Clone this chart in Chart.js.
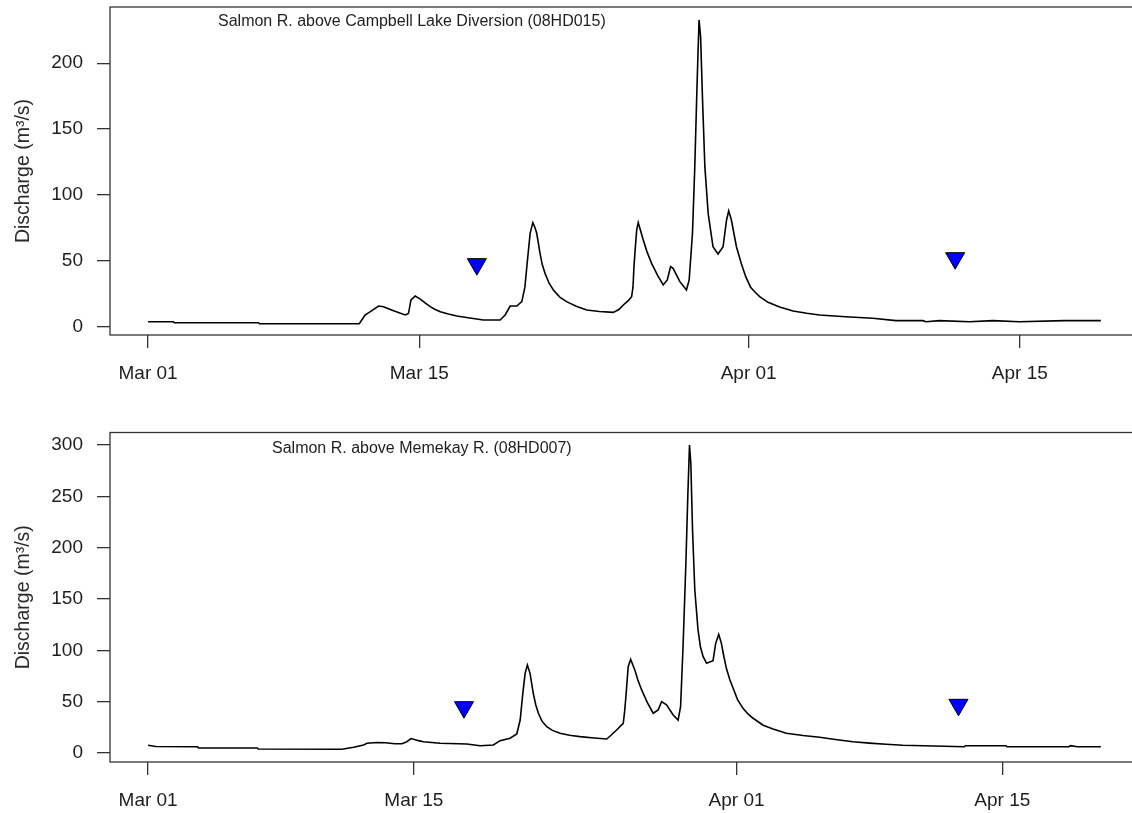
<!DOCTYPE html>
<html>
<head>
<meta charset="utf-8">
<script src="https://cdn.jsdelivr.net/npm/chart.js@4.4.1/dist/chart.umd.min.js"></script>
<style>
  html, body { margin: 0; padding: 0; background: #fff; overflow: hidden; }
  #wrap { position: relative; width: 1132px; height: 813px; overflow: hidden; }
  canvas { position: absolute; left: 0; }
  #topChart { top: 0; }
  #botChart { top: 400px; }
</style>
</head>
<body>
<div id="wrap">
  <canvas id="topChart" width="1140" height="400"></canvas>
  <canvas id="botChart" width="1140" height="413"></canvas>
</div>
<script>
// day 0 = Mar 01
const tickDays = [0, 14, 31, 45];
const tickLabels = ["Mar 01", "Mar 15", "Apr 01", "Apr 15"];
const yTitle = "Discharge (m\u00B3/s)";

// Salmon R. above Campbell Lake Diversion
const topTitle = "Salmon R. above Campbell Lake Diversion (08HD015)";
const topYTicks = [0, 50, 100, 150, 200];
const topDays = [
  0, 1.3, 1.35, 5.7, 5.75, 10.9, 11.2, 11.47, 11.9, 12.15, 12.67, 13.27, 13.44, 13.57,
  13.79, 14.05, 14.3, 14.56, 14.8, 15.08, 15.5, 15.94, 16.6, 17.31, 18.17, 18.43,
  18.69, 19.03, 19.29, 19.45, 19.55, 19.72, 19.86, 19.95, 20.06, 20.15, 20.23, 20.35,
  20.49, 20.7, 20.92, 21.25, 21.6, 22.1, 22.64, 23.3, 24.01, 24.3, 24.53, 24.8,
  24.96, 25.03, 25.08, 25.15, 25.22, 25.3, 25.4, 25.56, 25.75, 25.99, 26.3, 26.59,
  26.8, 26.97, 27.1, 27.45, 27.79, 27.93, 28.1, 28.22, 28.31, 28.39, 28.44, 28.52,
  28.62, 28.74, 28.91, 29.16, 29.42, 29.68, 29.86, 29.97, 30.11, 30.25, 30.37, 30.5,
  30.62, 30.85, 31.1, 31.35, 31.57, 32.0, 32.6, 33.29, 34.0, 34.66, 36.0, 37.41,
  38.6, 39.99, 40.16, 40.85, 42.4, 43.6, 44.97, 47.3, 49.18
];
const topFlow = [
  3.8, 3.8, 3.0, 3.0, 2.2, 2.3, 8.9, 11.4, 15.7, 15.2, 12.1, 8.9, 10.0, 20.3,
  23.3, 21.0, 18.0, 15.2, 13.2, 11.4, 9.6, 8.1, 6.6, 5.1, 5.1, 8.9,
  15.7, 15.7, 19.0, 30.0, 45.6, 70.9, 79.0, 76.0, 70.9, 63.0, 55.7, 47.0,
  40.5, 33.0, 27.9, 22.5, 19.0, 15.5, 12.7, 11.5, 10.9, 13.0, 16.5, 20.0,
  22.8, 30.0, 45.6, 60.0, 73.4, 79.0, 74.0, 65.8, 57.0, 48.1, 39.0, 31.7,
  35.5, 45.6, 44.3, 34.2, 27.9, 35.5, 70.9, 121.5, 169.6, 210, 232.9, 220,
  172, 121.5, 86, 60.7, 55.2, 60.7, 81, 88, 81, 70, 60.7, 54,
  48, 38, 30, 26, 22.8, 18.5, 15, 11.9, 10.2, 8.9, 7.5, 6.4,
  4.6, 4.6, 3.8, 4.6, 3.8, 4.6, 3.8, 4.6, 4.6
];
const topMarkDays = [16.97, 41.66];
const topMarkFlow = [47.5, 52];

// Salmon R. above Memekay R.
const botTitle = "Salmon R. above Memekay R. (08HD007)";
const botYTicks = [0, 50, 100, 150, 200, 250, 300];
const botDays = [
  0, 0.4, 2.6, 2.65, 5.75, 5.8, 10.2, 10.83, 11.35, 11.53, 12.06, 12.5, 13.0, 13.37,
  13.63, 13.85, 14.25, 14.5, 15.39, 16.79, 17.49, 18.19, 18.54, 19.07, 19.42, 19.6,
  19.74, 19.86, 19.98, 20.12, 20.29, 20.42, 20.56, 20.75, 21.0, 21.3, 21.7, 22.2,
  22.75, 23.5, 24.16, 24.4, 24.68, 25.03, 25.1, 25.17, 25.29, 25.42, 25.64, 25.8,
  26.0, 26.3, 26.61, 26.87, 27.05, 27.31, 27.66, 27.92, 28.05, 28.18, 28.33, 28.43,
  28.52, 28.59, 28.68, 28.8, 28.97, 29.1, 29.24, 29.42, 29.76, 29.9, 30.06, 30.2,
  30.33, 30.47, 30.65, 30.82, 31.05, 31.34, 31.6, 31.87, 32.4, 32.92, 33.62, 34.5,
  35.38, 36.2, 37.13, 38.0, 38.88, 39.76, 43.0, 43.05, 45.2, 45.25, 48.5, 48.6,
  48.95, 50.19
];
const botFlow = [
  7.5, 6.3, 6.0, 5.0, 4.8, 3.8, 3.6, 5.5, 7.8, 9.4, 10.2, 10.0, 9.0, 9.0,
  11.0, 14.0, 12.0, 11.0, 9.4, 8.8, 7.1, 7.8, 12.0, 14.3, 18.5, 32.1,
  58.1, 77.6, 85.7, 77.6, 58.1, 47.0, 38.7, 31.0, 25.6, 22.0, 19.2, 17.2,
  15.9, 14.6, 13.6, 17.5, 22.4, 28.9, 40.0, 54.8, 84, 91.2, 80.8, 71,
  61.4, 49, 38.7, 41.9, 50, 46.8, 37, 32.1, 45.1, 103.5, 184.8, 249.6,
  300, 282.2, 217.2, 158.8, 119.8, 103, 93.8, 87.4, 89.9, 106.8, 115.5, 106.8,
  94, 82, 71, 63, 52, 43.5, 38, 33.8, 27, 23.4, 19.2, 17,
  15.3, 13.2, 11.0, 9.6, 8.5, 7.5, 6.1, 7.0, 7.0, 6.1, 6.1, 7.1,
  6.1, 6.1
];
const botMarkDays = [16.64, 42.69];
const botMarkFlow = [44.6, 46.9];

const FONT = "'Liberation Sans', Arial, sans-serif";
const INK = "#1e1e1e";

// box round the plot + the station name inside it
const framePlugin = {
  id: "frame",
  afterDraw(chart, args, opts) {
    const { ctx, chartArea: a } = chart;
    ctx.save();
    ctx.strokeStyle = "#333";
    ctx.lineWidth = 1.3;
    ctx.strokeRect(a.left, a.top, a.right - a.left, a.bottom - a.top);
    ctx.fillStyle = INK;
    ctx.font = "16px " + FONT;
    ctx.textAlign = "left";
    ctx.textBaseline = "middle";
    ctx.fillText(opts.text, opts.x, opts.y);
    ctx.restore();
  }
};

// no extra room for labels hanging past the plot edges
function noEdgePad(s) {
  s.paddingTop = 0;
  s.paddingBottom = 0;
  s.paddingLeft = 0;
  s.paddingRight = 0;
}

function makeChart(id, days, flow, markDays, markFlow, yTicks, xRange, yRange, padTop, xAxisH, title, titlePos) {
  const ctx = document.getElementById(id).getContext("2d");
  return new Chart(ctx, {
    type: "line",
    data: {
      datasets: [
        {
          data: markDays.map((d, i) => ({ x: d, y: markFlow[i] })),
          showLine: false,
          pointStyle: "triangle",
          rotation: 180,
          pointRadius: 11,
          pointBackgroundColor: "#0000ff",
          pointBorderColor: "#000",
          pointBorderWidth: 1
        },
        {
          data: days.map((d, i) => ({ x: d, y: flow[i] })),
          borderColor: "#000",
          borderWidth: 1.6,
          pointRadius: 0,
          tension: 0,
          fill: false
        }
      ]
    },
    options: {
      responsive: false,
      animation: false,
      events: [],
      layout: { autoPadding: false, padding: { left: 0, top: padTop, right: 1, bottom: 0 } },
      plugins: {
        legend: { display: false },
        tooltip: { enabled: false },
        frame: { text: title, x: titlePos[0], y: titlePos[1] }
      },
      scales: {
        x: {
          type: "linear",
          min: xRange[0],
          max: xRange[1],
          afterBuildTicks: s => { s.ticks = tickDays.map(v => ({ value: v })); },
          afterFit: s => { s.height = xAxisH; noEdgePad(s); },
          grid: { drawOnChartArea: false, drawTicks: true, tickLength: 13, color: "#333", lineWidth: 1.3 },
          border: { display: false },
          ticks: {
            autoSkip: false,
            maxRotation: 0,
            padding: 14,
            color: INK,
            font: { family: FONT, size: 19 },
            callback: v => tickLabels[tickDays.indexOf(v)]
          }
        },
        y: {
          type: "linear",
          min: yRange[0],
          max: yRange[1],
          afterBuildTicks: s => { s.ticks = yTicks.map(v => ({ value: v })); },
          afterFit: s => { s.width = 110; noEdgePad(s); },
          grid: { drawOnChartArea: false, drawTicks: true, tickLength: 13, color: "#333", lineWidth: 1.3 },
          border: { display: false },
          ticks: {
            padding: 14,
            color: INK,
            font: { family: FONT, size: 19 }
          },
          title: {
            display: true,
            text: yTitle,
            color: "#2a2a2a",
            font: { family: FONT, size: 19.5 },
            padding: { top: 12, bottom: 0 }
          }
        }
      }
    },
    plugins: [framePlugin]
  });
}

makeChart("topChart", topDays, topFlow, topMarkDays, topMarkFlow, topYTicks,
  [-1.967, 51.15], [-6.3, 242.7], 7, 65, topTitle, [218, 22]);
makeChart("botChart", botDays, botFlow, botMarkDays, botMarkFlow, botYTicks,
  [-2.008, 52.2], [-8.8, 312.2], 32.5, 51, botTitle, [272, 49]);
</script>
</body>
</html>
